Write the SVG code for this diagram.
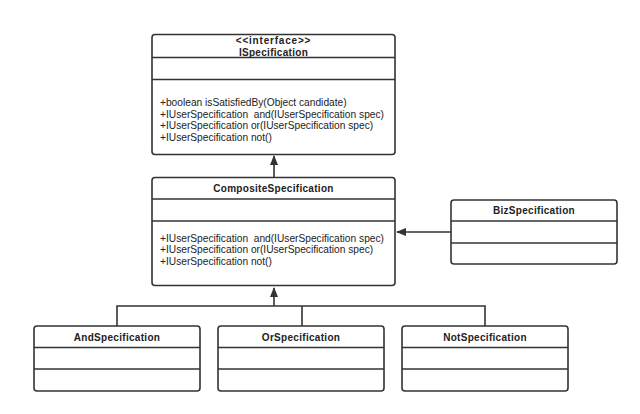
<svg xmlns="http://www.w3.org/2000/svg" width="640" height="414" viewBox="0 0 640 414">
<style>
.box{fill:#fff;stroke:#333;stroke-width:1.6}
.div{stroke:#333;stroke-width:1.6}
.t{font-family:"Liberation Sans",Arial,sans-serif;font-size:10px;font-weight:bold;fill:#222;text-anchor:middle;letter-spacing:0.3px}
.m{font-family:"Liberation Sans",Arial,sans-serif;font-size:10.2px;fill:#222}
.c{fill:none;stroke:#333;stroke-width:1.6}
</style>
<defs>
<marker id="ah" markerWidth="10" markerHeight="10" refX="9" refY="4" orient="auto" markerUnits="userSpaceOnUse">
<path d="M0,0 L10,4 L0,8 Z" fill="#333"/>
</marker>
</defs>
<rect width="640" height="414" fill="#fff"/>
<g id="connectors">
<line class="c" x1="274" y1="177" x2="274" y2="156" marker-end="url(#ah)"/>
<line class="c" x1="451" y1="232" x2="397" y2="232" marker-end="url(#ah)"/>
<path class="c" d="M117,326 V306 H485 V326 M302,306 V326"/>
<line class="c" x1="274" y1="306" x2="274" y2="288" marker-end="url(#ah)"/>
</g>
<g id="ISpecification">
<rect class="box" x="152" y="34.5" width="243" height="120" rx="3"/>
<line class="div" x1="152" y1="57.5" x2="395" y2="57.5"/>
<line class="div" x1="152" y1="79.5" x2="395" y2="79.5"/>
<text class="t" x="273.5" y="44" style="letter-spacing:0.8px">&lt;&lt;interface&gt;&gt;</text>
<text class="t" x="273.5" y="55.5">ISpecification</text>
<text class="m" x="160" y="106">+boolean isSatisfiedBy(Object candidate)</text>
<text class="m" x="160" y="117.7" xml:space="preserve">+IUserSpecification  and(IUserSpecification spec)</text>
<text class="m" x="160" y="129.4">+IUserSpecification or(IUserSpecification spec)</text>
<text class="m" x="160" y="141.1">+IUserSpecification not()</text>
</g>
<g id="CompositeSpecification">
<rect class="box" x="152" y="177.5" width="243" height="108" rx="3"/>
<line class="div" x1="152" y1="199" x2="395" y2="199"/>
<line class="div" x1="152" y1="221" x2="395" y2="221"/>
<text class="t" x="273.5" y="192">CompositeSpecification</text>
<text class="m" x="160" y="241.5" xml:space="preserve">+IUserSpecification  and(IUserSpecification spec)</text>
<text class="m" x="160" y="253.2">+IUserSpecification or(IUserSpecification spec)</text>
<text class="m" x="160" y="264.9">+IUserSpecification not()</text>
</g>
<g id="BizSpecification">
<rect class="box" x="451" y="200" width="166" height="64" rx="3"/>
<line class="div" x1="451" y1="221" x2="617" y2="221"/>
<line class="div" x1="451" y1="243" x2="617" y2="243"/>
<text class="t" x="534" y="214">BizSpecification</text>
</g>
<g id="AndSpecification">
<rect class="box" x="34" y="326" width="166" height="65" rx="3"/>
<line class="div" x1="34" y1="347.5" x2="200" y2="347.5"/>
<line class="div" x1="34" y1="369" x2="200" y2="369"/>
<text class="t" x="117" y="340.5">AndSpecification</text>
</g>
<g id="OrSpecification">
<rect class="box" x="218" y="326" width="166" height="65" rx="3"/>
<line class="div" x1="218" y1="347.5" x2="384" y2="347.5"/>
<line class="div" x1="218" y1="369" x2="384" y2="369"/>
<text class="t" x="301" y="340.5">OrSpecification</text>
</g>
<g id="NotSpecification">
<rect class="box" x="402" y="326" width="166" height="65" rx="3"/>
<line class="div" x1="402" y1="347.5" x2="568" y2="347.5"/>
<line class="div" x1="402" y1="369" x2="568" y2="369"/>
<text class="t" x="485" y="340.5">NotSpecification</text>
</g>
</svg>
